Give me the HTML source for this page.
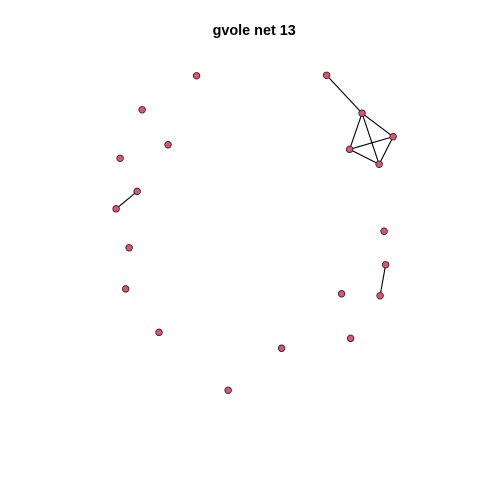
<!DOCTYPE html>
<html>
<head>
<meta charset="utf-8">
<title>gvole net 13</title>
<style>
html,body{margin:0;padding:0;background:#fff;width:480px;height:480px;overflow:hidden}
svg{display:block}
</style>
</head>
<body>
<svg id="chart" xmlns="http://www.w3.org/2000/svg" width="480" height="480" viewBox="0 0 480 480">
<rect width="480" height="480" fill="#ffffff"/>
<text x="254.2" y="35" text-anchor="middle" font-family="'Liberation Sans', sans-serif" font-weight="bold" font-size="14.4" fill="#000">gvole net 13</text>
<g id="edges"></g>
<g id="nodes"></g>
</svg>
<script>
const nodeX = [0.520,0.776,1.000,0.686,0.899,-0.419,-0.812,-0.625,-0.971,-0.848,-1.000,-0.906,-0.931,-0.690,-0.191,0.195,0.693,0.628,0.906,0.946,0.935];
const nodeY = [1.000,0.759,0.610,0.530,0.435,0.997,0.781,0.559,0.473,0.263,0.152,-0.095,-0.356,-0.632,-1.000,-0.733,-0.670,-0.387,-0.400,-0.203,0.010];
const edgeFrom = [0,1,1,1,2,2,3,9,18];
const edgeTo = [1,2,3,4,3,4,4,10,19];

function xAxis(v){ return 254.6 + 138.5 * v; }
function yAxis(v){ return 232.8 - 157.5 * v; }

const NS = 'http://www.w3.org/2000/svg';
const edgesGroup = document.getElementById('edges');
const nodesGroup = document.getElementById('nodes');

edgeFrom.forEach(function(from, i){
  const to = edgeTo[i];
  const line = document.createElementNS(NS, 'line');
  
  
  line.setAttribute('x1', xAxis(nodeX[from]));
  line.setAttribute('y1', yAxis(nodeY[from]));
  line.setAttribute('x2', xAxis(nodeX[to]));
  line.setAttribute('y2', yAxis(nodeY[to]));
  line.setAttribute('stroke', '#000');
  line.setAttribute('stroke-width', '1.1');
  edgesGroup.appendChild(line);
});

nodeX.forEach(function(x, i){
  const c = document.createElementNS(NS, 'circle');
  
  
  c.setAttribute('cx', xAxis(x));
  c.setAttribute('cy', yAxis(nodeY[i]));
  c.setAttribute('r', '3.3');
  c.setAttribute('fill', '#DF536B');
  c.setAttribute('stroke', '#222');
  c.setAttribute('stroke-width', '0.8');
  nodesGroup.appendChild(c);
});
</script>
</body>
</html>
